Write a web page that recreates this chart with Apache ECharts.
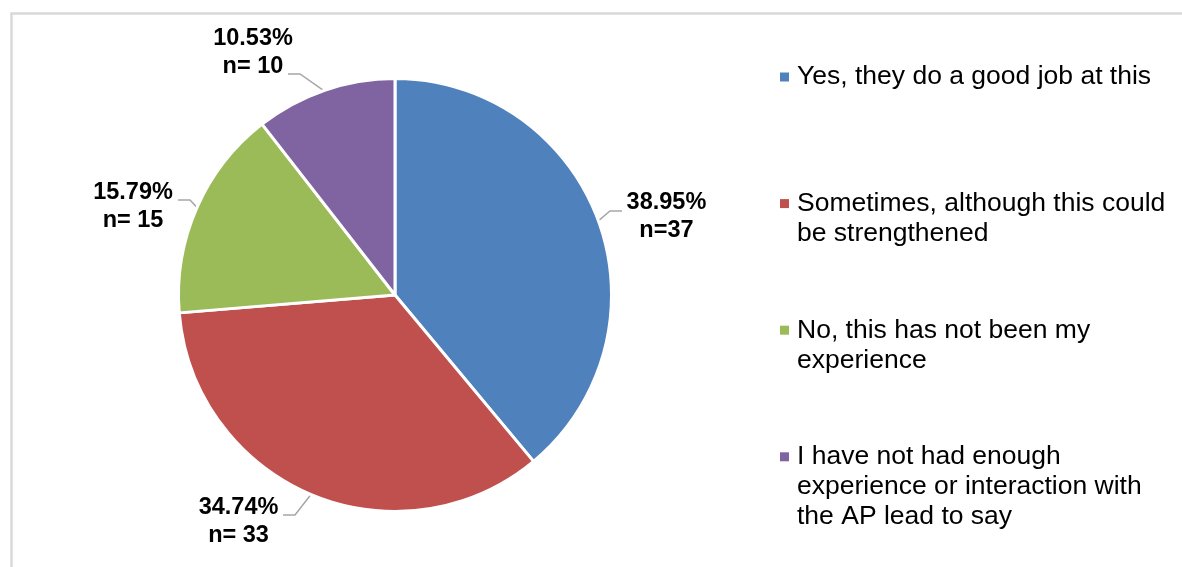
<!DOCTYPE html>
<html>
<head>
<meta charset="utf-8">
<script src="https://cdn.jsdelivr.net/npm/echarts@6/dist/echarts.min.js"></script>
<style>
  html, body { margin: 0; padding: 0; background: #ffffff; }
  #chart { width: 1182px; height: 567px; }
</style>
</head>
<body>
<div id="chart"></div>
<script>
// Survey answers (legend text keeps its line breaks)
const categories = [
  'Yes, they do a good job at this',
  'Sometimes, although this could\nbe strengthened',
  'No, this has not been my\nexperience',
  'I have not had enough\nexperience or interaction with\nthe AP lead to say'
];
// Number of respondents per answer
const counts = [37, 33, 15, 10];
// Spacing used after "n=" in each data label
const countSep = ['', ' ', ' ', ' '];
const colors = ['#4F81BD', '#C0504D', '#9BBB59', '#8064A2'];

const FONT = "'Liberation Sans', Arial, Helvetica, sans-serif";
const CX = 395, CY = 295, R = 216.5, EDGE = 215;
const total = counts.reduce((a, b) => a + b, 0);

// Leader line: elbow offset from the slice edge, then a short horizontal tail
const leaderBend = [[12.8, -10.9], [-16.9, 21.7], [-8.1, -8.7], [-25.2, -17.7]];
const TAIL = 12;
// Label block centre relative to the end of the leader line
const labelShift = [[44.5, 5.5], [-44.5, 7], [-45, 6.8], [-35, -21]];

// Mid angle of each slice, clockwise from 12 o'clock
const midAngle = [];
let acc = 0;
counts.forEach(v => { midAngle.push((acc + v / 2) / total * 2 * Math.PI); acc += v; });

// Legend rows: first text line of each entry sits on an even vertical rhythm
const LEG_FIRST = 77, LEG_STEP = 126.6, LEG_LINE = 30;
const legends = categories.map((name, i) => {
  const n = name.split('\n').length;
  const rows = 2 * n - 1;
  return {
    data: [name],
    orient: 'vertical',
    left: 780,
    top: LEG_FIRST + i * LEG_STEP - rows * LEG_LINE / 2,
    padding: 0,
    icon: 'rect',
    itemWidth: 9,
    itemHeight: 9,
    itemStyle: { borderWidth: 0 },
    selectedMode: false,
    // blank lines above balance the wrapped lines below so the marker sits on the first line
    formatter: nm => '\n'.repeat(n - 1) + nm,
    textStyle: {
      fontFamily: FONT, fontSize: 26.5, lineHeight: LEG_LINE, color: '#000000',
      padding: [0, 0, 0, 3]
    }
  };
});

const chart = echarts.init(document.getElementById('chart'), null, { renderer: 'canvas' });
chart.setOption({
  animation: false,
  backgroundColor: '#ffffff',
  graphic: [{
    type: 'rect',
    silent: true,
    z: -10,
    shape: { x: 11.5, y: 13.5, width: 1200, height: 600 },
    style: { fill: 'none', stroke: '#D9D9D9', lineWidth: 2.5 }
  }],
  legend: legends,
  series: [{
    type: 'pie',
    center: [CX, CY],
    radius: R,
    startAngle: 90,
    clockwise: true,
    avoidLabelOverlap: false,
    silent: true,
    data: categories.map((name, i) => ({ name: name, value: counts[i], itemStyle: { color: colors[i] } })),
    itemStyle: { borderColor: '#ffffff', borderWidth: 3 },
    label: {
      show: true,
      position: 'outside',
      formatter: p => (counts[p.dataIndex] / total * 100).toFixed(2) + '%\nn=' + countSep[p.dataIndex] + counts[p.dataIndex],
      fontFamily: FONT,
      fontSize: 23.5,
      fontWeight: 'bold',
      lineHeight: 28,
      color: '#000000',
      align: 'center'
    },
    labelLine: {
      show: true,
      length: 10,
      length2: 12,
      lineStyle: { color: '#A6A6A6', width: 1.5 }
    },
    labelLayout: p => {
      const i = p.dataIndex;
      const a = midAngle[i];
      const side = Math.sin(a) >= 0 ? 1 : -1;
      const p0 = [CX + EDGE * Math.sin(a), CY - EDGE * Math.cos(a)];
      const p1 = [p0[0] + leaderBend[i][0], p0[1] + leaderBend[i][1]];
      const p2 = [p1[0] + side * TAIL, p1[1]];
      return {
        x: p2[0] + labelShift[i][0],
        y: p2[1] + labelShift[i][1],
        align: 'center',
        verticalAlign: 'middle',
        labelLinePoints: [p0, p1, p2]
      };
    }
  }]
});
</script>
</body>
</html>
